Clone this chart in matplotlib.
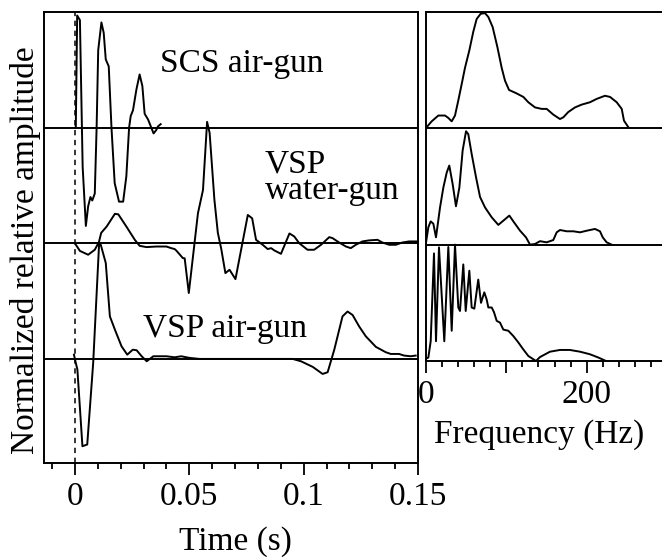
import matplotlib
matplotlib.use("Agg")
import matplotlib.pyplot as plt
from matplotlib.ticker import MultipleLocator, FixedLocator, FixedFormatter

plt.rcParams['font.family'] = ['Liberation Serif', 'DejaVu Serif']
plt.rcParams['font.size'] = 24

# ---------------- data: wavelets (time in s, normalized amplitude) ----------------
scs_t = [0.0004, 0.0010, 0.0022, 0.0034, 0.0048, 0.0058, 0.0068, 0.0076, 0.0087,
         0.0095, 0.0102, 0.0116, 0.0126, 0.0135, 0.0148, 0.0160, 0.0174, 0.0193,
         0.0211, 0.0225, 0.0237, 0.0244, 0.0254, 0.0269, 0.0283, 0.0295, 0.0305,
         0.0320, 0.0334, 0.0344, 0.0356, 0.0363, 0.0375]
scs_a = [0.00, 0.97, 0.93, -0.34, -0.85, -0.68, -0.60, -0.63, -0.57,
         0.00, 0.67, 0.91, 0.82, 0.59, 0.53, 0.00, -0.48, -0.64,
         -0.64, -0.42, 0.00, 0.10, 0.15, 0.33, 0.46, 0.36, 0.12,
         0.07, 0.00, -0.05, -0.02, 0.01, 0.03]

wg_t = [0.0, 0.0022, 0.0058, 0.0087, 0.0105, 0.0115, 0.0139, 0.0175, 0.0190,
        0.0225, 0.0262, 0.0283, 0.0313, 0.0356, 0.0400, 0.0421, 0.0436, 0.0443,
        0.0472, 0.0480, 0.0498, 0.0538, 0.0560, 0.0578, 0.0589, 0.0610, 0.0625,
        0.0640, 0.0658, 0.0676, 0.0702, 0.0756, 0.0775, 0.0792, 0.0821, 0.0843,
        0.0858, 0.0872, 0.0901, 0.0938, 0.0959, 0.0981, 0.1017, 0.1046, 0.1076,
        0.1112, 0.1126, 0.1155, 0.1185, 0.1206, 0.1228, 0.1257, 0.1286, 0.1323,
        0.1344, 0.1374, 0.1403, 0.1432, 0.1461, 0.1497]
wg_a = [0.000, -0.066, -0.099, -0.056, 0.010, 0.090, 0.145, 0.255, 0.250,
        0.145, 0.030, -0.022, -0.033, -0.028, -0.028, -0.042, -0.050, -0.062,
        -0.128, -0.130, -0.430, 0.260, 0.460, 1.050, 0.955, 0.375, 0.090,
        -0.050, -0.258, -0.229, -0.310, 0.245, 0.216, 0.030, -0.013, -0.050,
        -0.042, -0.062, -0.091, 0.085, 0.059, 0.000, -0.056, -0.056, -0.013,
        0.053, 0.045, 0.007, -0.028, -0.042, -0.013, 0.016, 0.025, 0.030,
        0.007, -0.013, -0.013, 0.007, 0.016, 0.016]

ag_t = [-0.0004, 0.0004, 0.0011, 0.0033, 0.0054, 0.0080, 0.0106, 0.0113, 0.0135,
        0.0153, 0.0175, 0.0204, 0.0229, 0.0253, 0.0270, 0.0292, 0.0314, 0.0343,
        0.0400, 0.0436, 0.0465, 0.0501, 0.0545, 0.0952, 0.0988, 0.1040, 0.1083,
        0.1105, 0.1134, 0.1170, 0.1192, 0.1214, 0.1243, 0.1272, 0.1316, 0.1359,
        0.1381, 0.1417, 0.1439, 0.1468, 0.1490]
ag_a = [0.037, -0.035, -0.092, -0.755, -0.740, -0.035, 1.000, 0.988, 0.830,
        0.368, 0.253, 0.109, 0.037, 0.080, 0.075, 0.023, -0.020, 0.023,
        0.023, 0.014, 0.023, 0.009, 0.000, 0.000, -0.020, -0.069, -0.130,
        -0.115, 0.080, 0.368, 0.410, 0.380, 0.280, 0.195, 0.104, 0.058,
        0.043, 0.043, 0.029, 0.023, 0.029]

# ---------------- data: amplitude spectra (frequency in Hz, normalized) ----------------
scs_f = [0, 7.4, 15.7, 24, 28, 32.3, 36.4, 40.5, 44.7, 48.8, 54.2, 59.1, 63.3, 68.3,
         73.7, 77.8, 83.2, 89, 94.4, 98.5, 103.5, 113, 121.3, 127.5, 135.8, 144.1,
         150.3, 158.5, 166.8, 171, 177.1, 185.5, 193.8, 204, 212.4, 222.7, 229,
         237.3, 243.5, 246.3, 251.7]
scs_s = [0.0, 0.06, 0.11, 0.11, 0.09, 0.06, 0.11, 0.24, 0.38, 0.52, 0.67, 0.83, 0.94, 0.985,
         0.99, 0.957, 0.87, 0.70, 0.52, 0.41, 0.33, 0.30, 0.27, 0.224, 0.18, 0.167,
         0.167, 0.118, 0.08, 0.095, 0.14, 0.18, 0.204, 0.224, 0.253, 0.28, 0.27,
         0.224, 0.167, 0.066, 0.01]

wg_f = [0, 3.3, 6.2, 9.5, 12.8, 17.8, 21.9, 26.1, 29.3, 33.5, 37.6, 41.8, 45.9, 50.1,
        52.9, 57.1, 62.5, 67.5, 73.7, 82, 90.2, 96.4, 103.9, 108.9, 117.2, 124.6,
        129.6, 135.8, 142, 150.3, 158.5, 162.7, 166.8, 175.2, 183.4, 191.7, 200,
        210.3, 216.5, 219.9, 224.8, 231]
wg_s = [0.0, 0.15, 0.20, 0.18, 0.063, 0.32, 0.49, 0.62, 0.68, 0.52, 0.33, 0.49, 0.81, 0.975,
        0.95, 0.78, 0.58, 0.41, 0.32, 0.235, 0.17, 0.206, 0.25, 0.20, 0.12, 0.063,
        0.0, 0.006, 0.03, 0.02, 0.04, 0.106, 0.126, 0.115, 0.115, 0.106, 0.12,
        0.135, 0.115, 0.063, 0.02, 0.0]

ag_f = [0.4, 3.3, 6.2, 10.3, 12.8, 16.5, 23.1, 28.1, 32.3, 36.4, 40.5, 42.6, 46.7, 49.7,
        54.2, 57.1, 60.4, 65.3, 68.7, 72.8, 75.7, 77.8, 82, 84.8, 88.2, 92.3, 96.4,
        102.6, 108.8, 115, 121.2, 127.5, 137, 142, 154.4, 166.8, 179, 191.7, 204,
        214.4, 224]
ag_s = [0.02, 0.03, 0.17, 0.925, 0.17, 0.977, 0.17, 0.98, 0.26, 1.0, 0.46, 0.43, 0.83, 0.43,
        0.776, 0.46, 0.45, 0.70, 0.50, 0.59, 0.53, 0.46, 0.46, 0.42, 0.345, 0.33, 0.27,
        0.26, 0.215, 0.16, 0.10, 0.043, 0.0, 0.034, 0.08, 0.095, 0.095, 0.08, 0.058,
        0.03, 0.0]

labels = ["SCS air-gun", "VSP\nwater-gun", "VSP air-gun"]
time_ticks = [0, 0.05, 0.1, 0.15]
time_ticklabels = ["0", "0.05", "0.1", "0.15"]
freq_ticks = [0, 100, 200]
freq_ticklabels = ["0", "", "200"]

# ---------------- figure ----------------
W, H = 662, 557
fig = plt.figure(figsize=(W / 100, H / 100), dpi=100)

def frac(x0, y0, x1, y1):
    return [x0 / W, 1 - y1 / H, (x1 - x0) / W, (y1 - y0) / H]

lw = 1.4
ax = fig.add_axes(frac(44, 12, 418, 463))
axr = fig.add_axes(frac(425.7, 12, 662, 361))

# left: wavelets
offsets = [2, 1, 0]
series = [(scs_t, scs_a), (wg_t, wg_a), (ag_t, ag_a)]
for off, (t, a) in zip(offsets, series):
    ax.axhline(off, color='black', lw=lw)
    ax.plot(t, [v + off for v in a], color='black', lw=lw)
ax.axvline(0, color='black', lw=1.1, ls=(0, (3.5, 3)))
ax.set_xlim(-0.0135, 0.15)
ax.set_ylim(-0.9, 3.0)
ax.set_yticks([])
ax.xaxis.set_major_locator(FixedLocator(time_ticks))
ax.xaxis.set_major_formatter(FixedFormatter(time_ticklabels))
ax.xaxis.set_minor_locator(MultipleLocator(0.01))

ax.text(0.0371, 2.48, labels[0], ha='left', va='baseline')
ax.text(0.0830, 1.383, labels[1], ha='left', va='baseline', linespacing=0.82)
ax.text(0.0296, 0.19, labels[2], ha='left', va='baseline')

# right: spectra
spectra = [(scs_f, scs_s), (wg_f, wg_s), (ag_f, ag_s)]
for off, (f, s) in zip(offsets, spectra):
    if off > 0:
        axr.axhline(off, color='black', lw=lw)
    axr.plot(f, [v + off for v in s], color='black', lw=lw)
axr.set_xlim(0, 236.3 / 0.805)
axr.set_ylim(0, 3)
axr.set_yticks([])
axr.spines['right'].set_visible(False)
axr.xaxis.set_major_locator(FixedLocator(freq_ticks))
axr.xaxis.set_major_formatter(FixedFormatter(freq_ticklabels))
axr.xaxis.set_minor_locator(MultipleLocator(20))

for a in (ax, axr):
    for sp in a.spines.values():
        sp.set_linewidth(1.4)
    a.tick_params(axis='x', which='major', direction='out', length=8.6, width=1.3, pad=4.5)
    a.tick_params(axis='x', which='minor', direction='out', length=4.5, width=1.3)

fig.text(235 / W, 1 - 550 / H, "Time (s)", ha='center', va='baseline')
fig.text(539 / W, 1 - 443 / H, "Frequency (Hz)", ha='center', va='baseline')
fig.text(34 / W, 1 - 250 / H, "Normalized relative amplitude", rotation=90,
         rotation_mode='anchor', ha='center', va='baseline')

fig.savefig("out.png", dpi=100)
